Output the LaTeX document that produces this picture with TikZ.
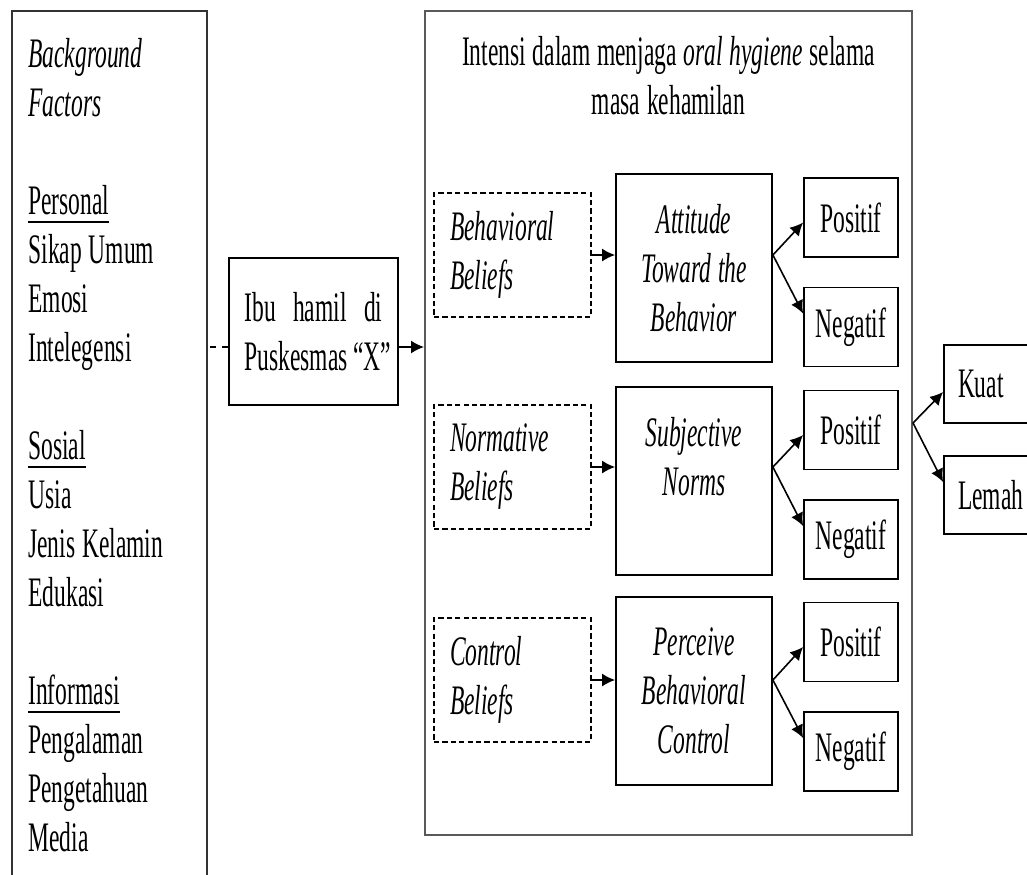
\documentclass[tikz,border=0pt]{standalone}
\usepackage{fontspec}
\setmainfont{Liberation Serif}[FakeStretch=0.56]
\usetikzlibrary{arrows.meta}
\usetikzlibrary{positioning}

\newcommand\diagfont{\fontsize{21pt}{24.5pt}\selectfont}
\newcommand\tightspace{\spaceskip=3.4pt plus 1pt minus 0.5pt\relax}
\newcommand\ulword[1]{\leavevmode\setbox0\hbox{#1}\rlap{\rule[-4.4pt]{\wd0}{0.9pt}}\box0}

\tikzset{
  every node/.style={font=\diagfont, execute at begin node=\tightspace},
  box/.style={draw, line width=0.9pt, inner sep=0pt},
  beliefbox/.style={draw, dash pattern=on 2.6pt off 1.6pt, line width=0.8pt,
    inner xsep=8pt, inner ysep=0pt, text width=62.5pt, minimum height=62pt,
    align=flush left, font=\diagfont\itshape},
  compbox/.style={box, minimum width=78pt, minimum height=94pt, text width=72pt,
    align=flush center, font=\diagfont\itshape},
  outbox/.style={box, minimum width=47pt, minimum height=39.5pt},
  endbox/.style={box, inner xsep=7pt, text width=34pt, minimum height=39pt, align=flush left},
  arr/.style={-{Latex[length=6.5pt,width=6.5pt]}, line width=0.8pt},
}

\begin{document}
\begin{tikzpicture}[x=0.5pt,y=-0.5pt]
\path[use as bounding box, clip] (0,0) rectangle (1027,874);

% background factors
\node[box, draw=black!80, line width=0.8pt, minimum width=97.5pt, minimum height=439.5pt]
  (bg) at (109.5,450.5) {};
\node[anchor=base west, inner sep=0pt, text width=85pt, align=flush left] (bgtext) at (28,67)
  {\textit{Background}\\\textit{Factors}\\[24.5pt]
   \ulword{Personal}\\Sikap Umum\\Emosi\\Intelegensi\\[24.5pt]
   \ulword{Sosial}\\Usia\\Jenis Kelamin\\Edukasi\\[24.5pt]
   \ulword{Informasi}\\Pengalaman\\Pengetahuan\\Media};

% subject
\node[box, minimum width=84.5pt, minimum height=73.5pt, text width=69pt, align=flush left]
  (ibu) at (313.5,331.5) {Ibu\hfill hamil\hfill di\\Puskesmas~“X”};

% intention
\node[box, draw=black!65, line width=1pt, minimum width=243.5pt, minimum height=412pt]
  (intensi) at (668.5,423) {};
\node[anchor=base, inner sep=0pt, text width=230pt, align=flush center] (title) at (668.5,65)
  {Intensi dalam menjaga \textit{oral hygiene} selama\\masa kehamilan};

% beliefs
\node[beliefbox] (bb) at (512.5,255) {Behavioral\\Beliefs};
\node[beliefbox] (nb) at (512.5,467) {Normative\\Beliefs};
\node[beliefbox] (cb) at (512.5,680) {Control\\Beliefs};

% components
\node[compbox] (att) at (694,268) {Attitude\\Toward the\\Behavior};
\node[compbox] (subj) at (694,481) {Subjective\\Norms\\\mbox{}};
\node[compbox] (pbc) at (694,691) {Perceive\\Behavioral\\Control};

% outcomes
\node[outbox] (attpos) at (851,217.5) {Positif};
\node[outbox] (attneg) at (851,327) {Negatif};
\node[outbox] (snpos) at (851,430) {Positif};
\node[outbox] (snneg) at (851,539.5) {Negatif};
\node[outbox] (pbcpos) at (851,642) {Positif};
\node[outbox] (pbcneg) at (851,751.5) {Negatif};

\node[endbox] (kuat) at (992,384) {Kuat};
\node[endbox] (lemah) at (992,495) {Lemah};

% connectors
\draw[dashed, line width=0.7pt] ([yshift=-7.75pt]ibu.west) -- ([yshift=-7.75pt]ibu.west -| bg.east);
\draw[arr] ([yshift=-7.75pt]ibu.east) -- ([yshift=-7.75pt]ibu.east -| intensi.west);
\foreach \b/\m/\p/\n in {bb/att/attpos/attneg, nb/subj/snpos/snneg, cb/pbc/pbcpos/pbcneg} {
  \draw[arr] (\b.east) -- (\b.east -| \m.west);
  \draw[arr] (\b.east -| \m.east) -- ([yshift=-2.5pt]\p.west);
  \draw[arr] (\b.east -| \m.east) -- ([yshift=6.75pt]\n.west);
}
\draw[arr] (intensi.east) -- ([yshift=-4pt]kuat.west);
\draw[arr] (intensi.east) -- ([yshift=6.5pt]lemah.west);
\end{tikzpicture}
\end{document}
